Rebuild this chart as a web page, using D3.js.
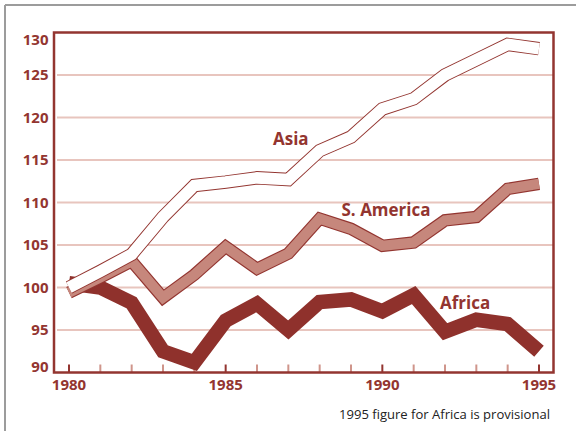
<!DOCTYPE html>
<html lang="en">
<head>
<meta charset="UTF-8">
<title>Chart</title>
<script src="https://cdn.jsdelivr.net/npm/d3@7"></script>
<style>
    html, body { margin: 0; padding: 0; background: #fff; }
    #graphDiv { width: 576px; height: 431px; }
    text { font-family: "Open Sans", "Noto Sans", sans-serif; }
</style>
</head>
<body>
<div id="graphDiv"></div>
<script>
    // data
    var years = [1980, 1981, 1982, 1983, 1984, 1985, 1986, 1987, 1988, 1989, 1990, 1991, 1992, 1993, 1994, 1995];
    var asia = [100, 101.9, 103.9, 108.3, 112.0, 112.4, 112.9, 112.7, 116.1, 117.7, 121.0, 122.2, 125.0, 126.8, 128.6, 128.1];
    var sAmerica = [99.4, 101.2, 103.1, 98.8, 101.5, 104.8, 102.2, 104.0, 108.1, 106.9, 104.9, 105.3, 107.9, 108.3, 111.6, 112.2];
    var africa = [100.5, 100.0, 98.2, 92.5, 91.2, 96.1, 98.1, 95.0, 98.3, 98.6, 97.2, 99.1, 94.8, 96.2, 95.7, 92.5];
    var yTicks = [90, 95, 100, 105, 110, 115, 120, 125, 130];
    var xLabels = [1980, 1985, 1990, 1995];

    var dark = "#933530";
    var selector = "#graphDiv";
    var svg = d3.select(selector).append("svg")
        .attr("width", 576)
        .attr("height", 431);

    var x = d3.scaleLinear().domain([1980, 1995]).range([69, 539]);
    var y = d3.scaleLinear().domain([90, 130]).range([372.5, 32.5]);

    // outer grey frame (only left and top show)
    svg.append("line").attr("x1", 5).attr("y1", 5).attr("x2", 5).attr("y2", 431)
        .style("stroke", "#9c9c9c").style("stroke-width", 2);
    svg.append("line").attr("x1", 5).attr("y1", 5).attr("x2", 576).attr("y2", 5)
        .style("stroke", "#9c9c9c").style("stroke-width", 2);

    // grid lines
    svg.selectAll("line.grid")
        .data(yTicks.filter(function (d) { return d > 90 && d < 130; }))
        .enter().append("line")
        .attr("class", "grid")
        .attr("x1", 57).attr("x2", 553)
        .attr("y1", function (d) { return y(d); })
        .attr("y2", function (d) { return y(d); })
        .style("stroke", "#e8c5be")
        .style("stroke-width", 2);

    // x ticks (one every year, labelled years darker)
    svg.selectAll("line.tick")
        .data(years).enter().append("line")
        .attr("class", "tick")
        .attr("x1", function (d) { return x(d); })
        .attr("x2", function (d) { return x(d); })
        .attr("y1", 364.5).attr("y2", 372)
        .style("stroke", function (d) { return xLabels.indexOf(d) >= 0 ? dark : "#cf958b"; })
        .style("stroke-width", 2);

    var line = d3.line()
        .x(function (d, i) { return x(years[i]); })
        .y(function (d) { return y(d); });

    function drawSeries(values, outline, fill, outerW, innerW) {
        svg.append("path")
            .attr("d", line(values))
            .style("fill", "none")
            .style("stroke", outline)
            .style("stroke-width", outerW)
            .style("stroke-linejoin", "miter")
            .style("stroke-linecap", "butt");
        if (fill) {
            svg.append("path")
                .attr("d", line(values))
                .style("fill", "none")
                .style("stroke", fill)
                .style("stroke-width", innerW)
                .style("stroke-linejoin", "miter")
                .style("stroke-linecap", "butt");
        }
    }

    drawSeries(africa, "#8f312c", null, 14.5, 0);
    drawSeries(sAmerica, dark, "#c6877c", 12.5, 10.2);
    drawSeries(asia, dark, "#ffffff", 13.5, 11.6);

    // plot frame
    svg.append("rect")
        .attr("x", 54).attr("y", 32.5)
        .attr("width", 499.5).attr("height", 340)
        .style("fill", "none")
        .style("stroke", dark)
        .style("stroke-width", 2.5);

    // y labels
    svg.selectAll("text.ylab")
        .data(yTicks).enter().append("text")
        .attr("class", "ylab")
        .attr("x", 48.5)
        .attr("y", function (d) { return Math.min(Math.max(y(d), 40), 367); })
        .attr("dy", "0.36em")
        .attr("text-anchor", "end")
        .style("font-size", "15px")
        .style("font-weight", 700)
        .style("fill", dark)
        .text(function (d) { return d; });

    // x labels
    svg.selectAll("text.xlab")
        .data(xLabels).enter().append("text")
        .attr("class", "xlab")
        .attr("x", function (d) { return x(d); })
        .attr("y", 389.5)
        .attr("text-anchor", "middle")
        .style("font-size", "15px")
        .style("font-weight", 700)
        .style("fill", dark)
        .text(function (d) { return d; });

    // series names
    var names = [
        {name: "Asia", x: 273, y: 145},
        {name: "S. America", x: 341.5, y: 215.5},
        {name: "Africa", x: 440, y: 309}
    ];
    svg.selectAll("text.name")
        .data(names).enter().append("text")
        .attr("class", "name")
        .attr("x", function (d) { return d.x; })
        .attr("y", function (d) { return d.y; })
        .style("font-size", "17px")
        .style("font-weight", 700)
        .style("fill", dark)
        .text(function (d) { return d.name; });

    svg.append("text")
        .attr("x", 550).attr("y", 418.5)
        .attr("text-anchor", "end")
        .style("font-size", "13.5px")
        .style("fill", "#222")
        .attr("textLength", 211)
        .attr("lengthAdjust", "spacingAndGlyphs")
        .text("1995 figure for Africa is provisional");
</script>
</body>
</html>
